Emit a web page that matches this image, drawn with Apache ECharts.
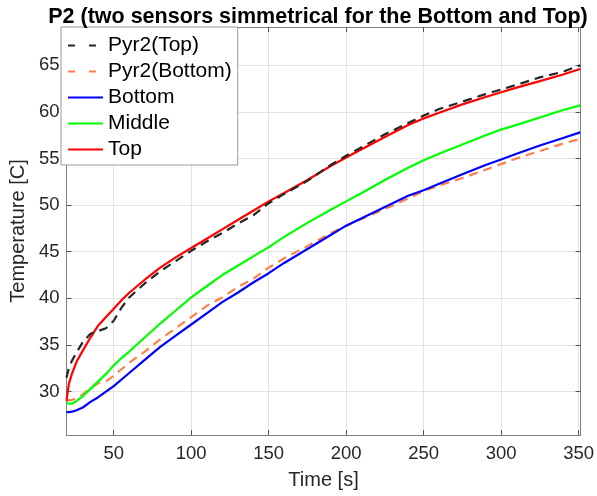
<!DOCTYPE html>
<html>
<head>
<meta charset="utf-8">
<script src="https://cdn.jsdelivr.net/npm/echarts@6/dist/echarts.min.js"></script>
<style>
html,body{margin:0;padding:0;background:#fff;}
#chart{width:597px;height:496px;}
</style>
</head>
<body>
<div id="chart"></div>
<script>
// ---- data ----
var time = [19.5, 21, 23, 26, 30, 35, 40, 45, 50, 55, 60, 70, 80, 90, 100, 110, 120, 130, 140, 150, 160, 175, 190, 200, 210, 225, 240, 250, 260, 275, 290, 300, 310, 325, 340, 351];
var pyrTop =    [31.5, 32.5, 33.3, 34.2, 35.3, 36.2, 36.5, 36.8, 37.6, 39.0, 40.1, 41.6, 42.9, 44.0, 45.1, 46.1, 47.0, 48.0, 48.9, 50.2, 51.2, 52.6, 54.3, 55.3, 56.2, 57.6, 58.8, 59.6, 60.3, 61.1, 61.9, 62.4, 62.9, 63.7, 64.3, 65.0];
var pyrBottom = [29.0, 29.1, 29.1, 29.3, 29.7, 30.4, 30.9, 31.1, 31.7, 32.4, 33.1, 34.3, 35.6, 36.8, 38.0, 39.2, 40.1, 41.2, 42.1, 43.3, 44.3, 45.6, 47.0, 47.8, 48.5, 49.6, 50.7, 51.5, 52.1, 52.9, 53.8, 54.4, 55.0, 55.8, 56.6, 57.1];
var bottom =    [27.8, 27.8, 27.85, 28.0, 28.3, 28.9, 29.4, 30.0, 30.6, 31.3, 32.0, 33.4, 34.8, 36.0, 37.2, 38.4, 39.6, 40.6, 41.7, 42.7, 43.8, 45.3, 46.8, 47.8, 48.6, 49.8, 51.0, 51.6, 52.3, 53.3, 54.3, 54.9, 55.5, 56.4, 57.2, 57.8];
var middle =    [28.8, 28.7, 28.7, 29.0, 29.5, 30.3, 31.1, 31.9, 32.8, 33.6, 34.3, 35.8, 37.3, 38.7, 40.1, 41.3, 42.5, 43.5, 44.5, 45.5, 46.6, 48.1, 49.5, 50.4, 51.3, 52.7, 54.0, 54.8, 55.5, 56.5, 57.5, 58.1, 58.6, 59.4, 60.2, 60.7];
var top_ =      [29.0, 30.8, 31.9, 33.2, 34.4, 35.8, 37.1, 38.0, 38.9, 39.8, 40.6, 42.0, 43.3, 44.4, 45.4, 46.4, 47.4, 48.4, 49.4, 50.4, 51.3, 52.7, 54.2, 55.1, 56.0, 57.3, 58.6, 59.3, 59.9, 60.8, 61.6, 62.1, 62.6, 63.3, 64.0, 64.6];
var xTicks = [50, 100, 150, 200, 250, 300, 350];
var yTicks = [30, 35, 40, 45, 50, 55, 60, 65];
var seriesNames = ['Pyr2(Top)', 'Pyr2(Bottom)', 'Bottom', 'Middle', 'Top'];
var titleText = 'P2 (two sensors simmetrical for the Bottom and Top)';

function pairs(ys){ return time.map(function(t,i){ return [t, ys[i]]; }); }

var FONT = '"Liberation Sans", Arial, Helvetica, sans-serif';
var axisCol = '#262626';
var xMin = 19.5, xMax = 351.3, yMin = 25.35, yMax = 69.1;

function mkX(pos, main){
  return {
    type:'value', position:pos, min:xMin, max:xMax,
    name: main ? 'Time [s]' : '', nameLocation:'middle', nameGap:35,
    nameTextStyle:{fontFamily:FONT, fontSize:20, color:axisCol},
    axisLine:{show:true, onZero:false, lineStyle:{color:'#7f7f7f', width:1}},
    axisTick:{show:true, inside:true, length:5, customValues:xTicks, lineStyle:{color:'#555'}},
    axisLabel:{show:main, customValues:xTicks, margin:9, fontFamily:FONT, fontSize:18.5, color:axisCol},
    splitLine:{show:main, lineStyle:{color:'#e3e3e3', width:1, type:'solid'}}
  };
}
function mkY(pos, main){
  return {
    type:'value', position:pos, min:yMin, max:yMax,
    name: main ? 'Temperature [C]' : '', nameLocation:'middle', nameGap:33,
    nameTextStyle:{fontFamily:FONT, fontSize:20, color:axisCol},
    axisLine:{show:true, onZero:false, lineStyle:{color:'#7f7f7f', width:1}},
    axisTick:{show:true, inside:true, length:5, customValues:yTicks, lineStyle:{color:'#555'}},
    axisLabel:{show:main, customValues:yTicks, margin:7, fontFamily:FONT, fontSize:18.5, color:axisCol},
    splitLine:{show:main, lineStyle:{color:'#e3e3e3', width:1, type:'solid'}}
  };
}

var colors = ['#262626', '#ff7f4a', '#0000ff', '#00ff00', '#ff0000'];
var dataSets = [pyrTop, pyrBottom, bottom, middle, top_];
var dashed = [true, true, false, false, false];

var series = seriesNames.map(function(n, i){
  return {
    name:n, type:'line', data:pairs(dataSets[i]), symbol:'none', smooth:false,
    xAxisIndex:0, yAxisIndex:0, z: 2 + (i===4 ? 3 : i===0 ? 4 : i),
    lineStyle:{color:colors[i], width:2.2, type: dashed[i] ? [9,6] : 'solid'},
    itemStyle:{color:colors[i]}
  };
});

var legendData = seriesNames.map(function(n, i){
  return dashed[i] ? {name:n, lineStyle:{type:[7,14]}} : {name:n};
});

var chart = echarts.init(document.getElementById('chart'), null, {renderer:'canvas'});
chart.setOption({
  animation:false,
  backgroundColor:'#ffffff',
  title:{text:titleText, left:313, textAlign:'center', top:1,
    textStyle:{fontFamily:FONT, fontSize:21.5, fontWeight:'bold', color:'#000'}},
  grid:{left:60.5, right:16, top:27, bottom:61, containLabel:false},
  legend:{
    data:legendData, orient:'vertical', left:61, top:27,
    backgroundColor:'#fff', borderColor:'#9a9a9a', borderWidth:1,
    padding:[8,6,5,6], itemGap:5, itemWidth:35, itemHeight:14,
    itemStyle:{opacity:0},
    textStyle:{fontFamily:FONT, fontSize:21, color:'#000'}
  },
  xAxis:[mkX('bottom', true), mkX('top', false)],
  yAxis:[mkY('left', true), mkY('right', false)],
  series:series
});
</script>
</body>
</html>
